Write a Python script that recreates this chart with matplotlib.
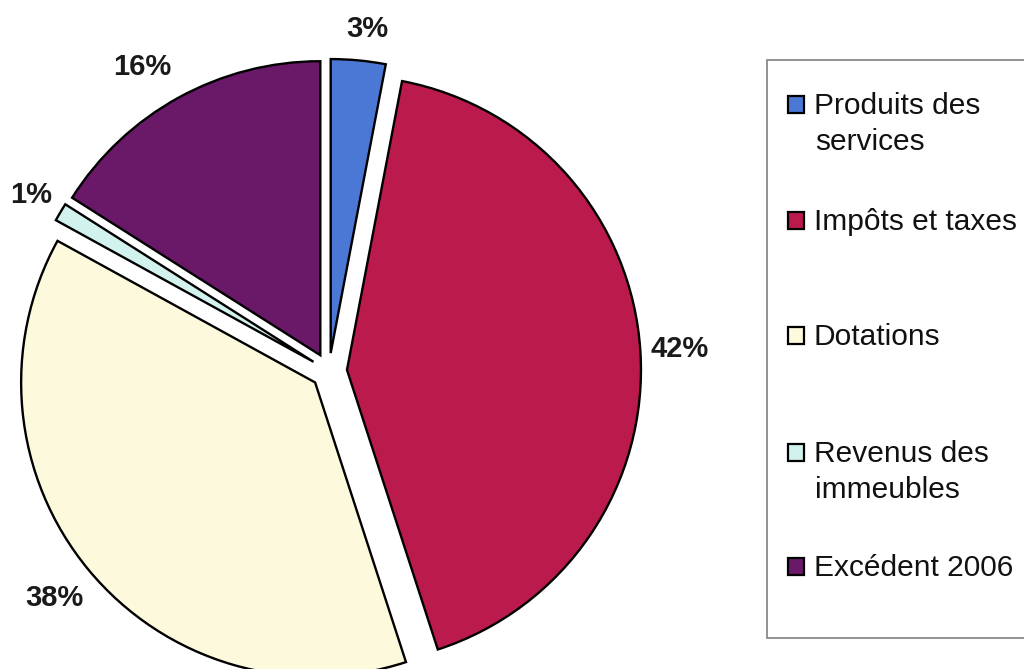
import numpy as np
import matplotlib
matplotlib.use("Agg")
import matplotlib.pyplot as plt
from matplotlib.patches import Rectangle

categories = ["Produits des\nservices", "Impôts et taxes", "Dotations",
              "Revenus des\nimmeubles", "Excédent 2006"]
values = [3, 42, 38, 1, 16]
colors = ["#4A78D4", "#BB1A4C", "#FCF9DC", "#D2F2EE", "#6A1868"]

W, H = 1024, 669
fig = plt.figure(figsize=(W / 100, H / 100), dpi=100)
ax = fig.add_axes([0, 0, 1, 1])

cx, cy, R = 329, H - 371, 294
explode = [18] * len(values)          # offset in pixels (data units)
label_dist = [1.11, 1.134, 1.15, 1.117, 1.153]
label_dang = [-1.0, 0, 0, 0, 2.8]

wedges, texts, autotexts = ax.pie(
    values, colors=colors, explode=explode, startangle=90, counterclock=False,
    center=(cx, cy), radius=R,
    wedgeprops=dict(edgecolor="black", linewidth=1.7),
    autopct="%1.0f%%", pctdistance=1.13,
    textprops=dict(fontsize=21, fontweight="bold", color="#1a1a1a",
                   family="Liberation Sans"))

# fine placement of percentage labels
for w, t, d, da in zip(wedges, autotexts, label_dist, label_dang):
    th = np.deg2rad((w.theta1 + w.theta2) / 2 + da)
    x0, y0 = w.center
    t.set_position((x0 + d * R * np.cos(th), y0 + d * R * np.sin(th)))
    t.set_ha("center"); t.set_va("center")

ax.set_xlim(0, W)
ax.set_ylim(0, H)
ax.set_aspect("equal")
ax.axis("off")

# legend (drawn manually to mimic the original layout)
ax.add_patch(Rectangle((767, H - 638), 300, 578, facecolor="white",
                       edgecolor="#808080", linewidth=1.2, zorder=3))
entry_y = [104, 220, 335, 452, 566]
for lab, col, yc in zip(categories, colors, entry_y):
    ax.add_patch(Rectangle((788, H - yc - 8.5), 16, 17, facecolor=col,
                           edgecolor="black", linewidth=1.6, zorder=4))
    for k, line in enumerate(lab.split("\n")):
        ax.text(814 if k == 0 else 815, H - (yc + 10 + 36 * k), line,
                fontsize=21.5, family="Liberation Sans", color="#111111",
                ha="left", va="baseline", zorder=5)

fig.savefig("out.png", dpi=100)
